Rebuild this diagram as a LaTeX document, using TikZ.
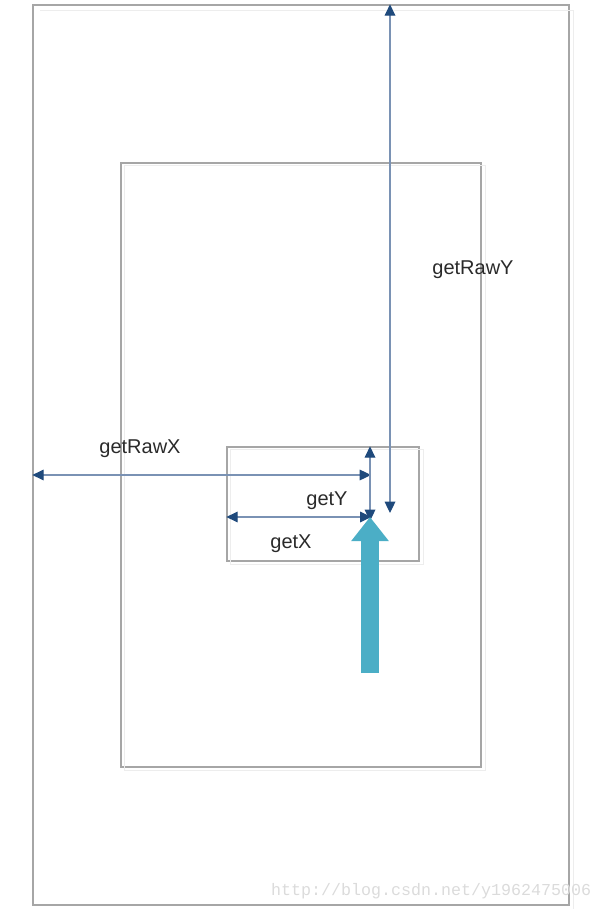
\documentclass[tikz,border=0pt]{standalone}
\usepackage{fontspec}
\setmainfont{Liberation Sans}
\newfontfamily\markfont{Liberation Mono}
\usetikzlibrary{arrows.meta, positioning, calc}
\definecolor{frame}{HTML}{A6A6A6}
\definecolor{ghost}{HTML}{EDEDED}
\definecolor{measure}{HTML}{7A92B4}
\definecolor{tip}{HTML}{1F4A7C}
\definecolor{touch}{HTML}{4BAEC6}
\definecolor{ink}{HTML}{2A2A2A}
\tikzset{
  panel/.style   = {draw=frame, line width=1pt, inner sep=0pt, fill=none},
  shade/.style   = {draw=ghost, line width=1pt},
  span/.style    = {{Triangle[length=8.5pt,width=8pt,color=tip]}-{Triangle[length=8.5pt,width=8pt,color=tip]},
                    draw=measure, line width=0.9pt},
  push/.style    = {-{Triangle[length=18pt,width=27pt]}, draw=touch, line width=13pt},
  tag/.style     = {font=\fontsize{15}{17}\selectfont, text=ink, inner sep=1pt},
}

\begin{document}
\begin{tikzpicture}[x=0.75pt, y=-0.75pt]
\useasboundingbox (0,0) rectangle (606,912);

% screen, window and view
\node[panel, minimum width=402pt, minimum height=675pt] (screen) at (301,455) {};
\node[panel, minimum width=270pt, minimum height=453pt] (window) at (301,465) {};
\node[panel, minimum width=144pt, minimum height=85.5pt] (view) at (323,504) {};

\draw[shade] ([shift={(4,3)}]window.south west) rectangle ([shift={(4,3)}]window.north east);
\draw[shade] ([shift={(4,3)}]view.south west) rectangle ([shift={(4,3)}]view.north east);
\draw[shade] ([shift={(8,6)}]screen.north west) -- ([shift={(4,6)}]screen.north east) -- ([shift={(4,3)}]screen.south east);

\coordinate (finger) at (370,517);
\coordinate (rawx) at (371,475);
\coordinate (rawy) at (390,513);
\coordinate (base) at (370,673);

\draw[span] (screen.north -| rawy) -- (rawy);
\draw[span] (screen.west |- rawx) -- (rawx);
\draw[span] (view.north -| finger) -- ([yshift=-3]finger);
\draw[span] (view.west |- finger) -- ([xshift=1]finger);
\draw[push] (base) -- (finger);

\node[tag] (lrawy) at (473,270) {getRawY};
\node[tag] (lrawx) at (140,449) {getRawX};
\node[tag] (ly) at (327,501) {getY};
\node[tag] (lx) at (291,544) {getX};

\node[font=\markfont\fontsize{12.5}{14}\selectfont, text=black!14, anchor=east] (mark) at (596,891) {http://blog.csdn.net/y1962475006};

\end{tikzpicture}
\end{document}
